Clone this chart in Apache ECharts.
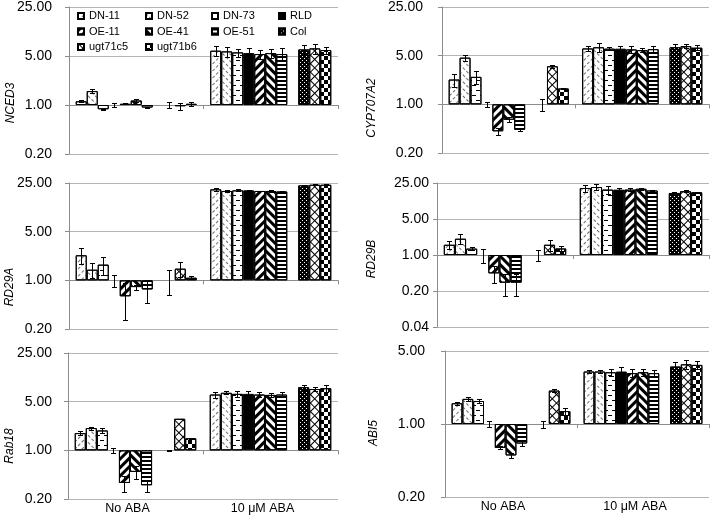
<!DOCTYPE html>
<html><head><meta charset="utf-8">
<script src="https://cdn.jsdelivr.net/npm/echarts@6/dist/echarts.min.js"></script>
<style>html,body{margin:0;padding:0;background:#fff}#c{width:719px;height:517px}</style>
</head><body><div id="c"></div>
<script>
// ---------------- data ----------------
const categories = ['No ABA', '10 μM ABA'];
const lines = ['DN-11', 'DN-52', 'DN-73', 'RLD', 'OE-11', 'OE-41', 'OE-51', 'Col', 'ugt71c5', 'ugt71b6'];
const genes = ['NCED3', 'CYP707A2', 'RD29A', 'RD29B', 'Rab18', 'ABI5'];

const NCED3_ticks = [0.2, 1, 5, 25];
const NCED3_noABA = [1.13, 1.58, 0.87, 1.00, 1.04, 1.16, 0.92, 1.00, 0.96, 1.04];
const NCED3_noABA_err = [0.04, 0.10, 0.02, 0.07, 0.02, 0.05, 0.02, 0.10, 0.10, 0.08];
const NCED3_ABA = [5.95, 5.82, 5.63, 5.50, 5.33, 5.50, 5.33, 6.20, 6.42, 6.08];
const NCED3_ABA_err = [0.90, 1.00, 0.75, 1.00, 0.75, 0.80, 1.10, 0.95, 1.00, 0.70];

const CYP707A2_ticks = [0.2, 1, 5, 25];
const CYP707A2_noABA = [2.27, 4.68, 2.48, 1.00, 0.41, 0.60, 0.43, 1.00, 3.52, 1.69];
const CYP707A2_noABA_err = [0.50, 0.45, 0.50, 0.09, 0.05, 0.05, 0.015, 0.20, 0.15, 0.04];
const CYP707A2_ABA = [6.35, 6.60, 6.30, 6.30, 6.15, 6.00, 6.20, 6.60, 6.85, 6.50];
const CYP707A2_ABA_err = [0.60, 0.90, 0.35, 0.60, 0.70, 0.40, 0.60, 0.70, 0.50, 0.50];

const RD29A_ticks = [0.2, 1, 5, 25];
const RD29A_noABA = [2.29, 1.42, 1.68, 1.00, 0.59, 0.80, 0.74, 1.00, 1.47, 1.09];
const RD29A_noABA_err = [0.60, 0.33, 0.50, 0.20, 0.32, 0.07, 0.27, 0.39, 0.35, 0.05];
const RD29A_ABA = [20.3, 19.2, 19.6, 19.6, 19.2, 19.2, 18.9, 23.1, 23.6, 23.6];
const RD29A_ABA_err = [1.0, 0.5, 0.6, 0.5, 0.3, 0.4, 0.4, 0.6, 0.4, 0.4];

const RD29B_ticks = [0.04, 0.2, 1, 5, 25];
const RD29B_noABA = [1.58, 2.07, 1.33, 1.00, 0.44, 0.29, 0.29, 1.00, 1.58, 1.34];
const RD29B_noABA_err = [0.30, 0.45, 0.10, 0.30, 0.16, 0.13, 0.13, 0.23, 0.40, 0.15];
const RD29B_ABA = [20.0, 20.9, 18.6, 18.6, 18.6, 19.3, 17.9, 16.0, 17.3, 16.5];
const RD29B_ABA_err = [3.0, 2.5, 3.0, 1.0, 1.0, 1.0, 0.7, 1.0, 0.6, 0.4];

const Rab18_ticks = [0.2, 1, 5, 25];
const Rab18_noABA = [1.77, 2.09, 1.93, 1.00, 0.34, 0.49, 0.315, 1.00, 2.84, 1.49];
const Rab18_noABA_err = [0.12, 0.10, 0.15, 0.08, 0.09, 0.10, 0.065, 0.02, 0.02, 0.03];
const Rab18_ABA = [6.33, 6.70, 6.47, 6.47, 6.33, 6.25, 6.33, 8.06, 7.60, 7.80];
const Rab18_ABA_err = [0.60, 0.35, 0.65, 0.65, 0.50, 0.45, 0.55, 0.60, 0.60, 0.90];

const ABI5_ticks = [0.2, 1, 5];
const ABI5_noABA = [1.58, 1.74, 1.66, 1.00, 0.59, 0.50, 0.65, 1.00, 2.09, 1.33];
const ABI5_noABA_err = [0.05, 0.08, 0.07, 0.07, 0.02, 0.03, 0.03, 0.08, 0.08, 0.10];
const ABI5_ABA = [3.18, 3.18, 3.13, 3.18, 3.07, 3.13, 3.07, 3.55, 3.73, 3.68];
const ABI5_ABA_err = [0.10, 0.12, 0.25, 0.30, 0.28, 0.25, 0.25, 0.35, 0.35, 0.30];

// ---------------- layout / style ----------------
const FONT = 'Liberation Sans, Arial, sans-serif';
const panelData = [
  [NCED3_ticks, NCED3_noABA, NCED3_noABA_err, NCED3_ABA, NCED3_ABA_err],
  [CYP707A2_ticks, CYP707A2_noABA, CYP707A2_noABA_err, CYP707A2_ABA, CYP707A2_ABA_err],
  [RD29A_ticks, RD29A_noABA, RD29A_noABA_err, RD29A_ABA, RD29A_ABA_err],
  [RD29B_ticks, RD29B_noABA, RD29B_noABA_err, RD29B_ABA, RD29B_ABA_err],
  [Rab18_ticks, Rab18_noABA, Rab18_noABA_err, Rab18_ABA, Rab18_ABA_err],
  [ABI5_ticks, ABI5_noABA, ABI5_noABA_err, ABI5_ABA, ABI5_ABA_err]
];
const gridBoxes = [
  {left: 69, top: 7, width: 269, height: 147},
  {left: 442, top: 7, width: 267, height: 146},
  {left: 69, top: 183, width: 269, height: 146},
  {left: 437, top: 183, width: 272, height: 144},
  {left: 68, top: 353, width: 270, height: 146},
  {left: 445, top: 351, width: 264, height: 146}
];
const labelMargins = [17, 19, 17, 8, 16, 20];
const namePos = [[11, 103], [372, 108], [10, 287], [372, 259], [10, 446], [374, 433]];

const NSLOT = 11;          // 10 lines + one empty slot between OE-51 and Col
const CAT_GAP = 0.10;
const slotOf = i => (i < 7 ? i : i + 1);

const PI4 = Math.PI / 4;   // positive rotation = clockwise -> "\" ; negative -> "/"
const decals = [
  {symbol: 'rect', symbolSize: 1, dashArrayX: [[3, 2]], dashArrayY: [1, 4], rotation: -PI4, color: '#6e6e6e'},
  {symbol: 'rect', symbolSize: 1, dashArrayX: [[3, 2]], dashArrayY: [1, 4], rotation: PI4, color: '#6e6e6e'},
  {symbol: 'rect', symbolSize: 1, dashArrayX: [[4, 4], [0, 4, 4, 0]], dashArrayY: [1, 4], color: '#000'},
  null,
  {symbol: 'rect', symbolSize: 1, dashArrayX: [[1, 0]], dashArrayY: [3, 3], rotation: -PI4, color: '#000'},
  {symbol: 'rect', symbolSize: 1, dashArrayX: [[1, 0]], dashArrayY: [3, 3], rotation: PI4, color: '#000'},
  {symbol: 'rect', symbolSize: 1, dashArrayX: [[1, 0]], dashArrayY: [2, 2], color: '#000'},
  {symbol: 'rect', symbolSize: 1, dashArrayX: [[1, 3], [0, 2, 1, 1]], dashArrayY: [1, 1], color: '#fff'},
  {symbol: 'rect', symbolSize: 1, dashArrayX: [[1, 0], [1, 5], [1, 5], [1, 5], [1, 5], [1, 5]], dashArrayY: [1, 0], rotation: PI4, color: '#000'},
  {symbol: 'rect', symbolSize: 1, dashArrayX: [[4, 4], [0, 4, 4, 0]], dashArrayY: [4, 0], color: '#000'}
];
const baseColors = ['#fff', '#fff', '#fff', '#000', '#fff', '#fff', '#fff', '#000', '#fff', '#fff'];

function errRender(params, api) {
  const c = api.value(0), s = api.value(1), lo = api.value(2), hi = api.value(3);
  const band = api.size([1, 1])[0];
  const bw = band * (1 - CAT_GAP) / NSLOT;
  let x = api.coord([c, 1])[0] + (s - (NSLOT - 1) / 2) * bw;
  x = Math.round(x) + 0.5;
  const y0 = Math.round(api.coord([c, lo])[1]) + 0.5;
  const y1 = Math.round(api.coord([c, hi])[1]) + 0.5;
  const h = 2.5;
  const st = {stroke: '#000', lineWidth: 1};
  return {type: 'group', children: [
    {type: 'line', shape: {x1: x, y1: y0, x2: x, y2: y1}, style: st},
    {type: 'line', shape: {x1: x - h, y1: y0, x2: x + h, y2: y0}, style: st},
    {type: 'line', shape: {x1: x - h, y1: y1, x2: x + h, y2: y1}, style: st}
  ]};
}

const grids = [], xAxes = [], yAxes = [], series = [];
panelData.forEach((pd, k) => {
  const [ticks, noA, noE, aba, abaE] = pd;
  const box = gridBoxes[k];
  const min = ticks[0], max = ticks[ticks.length - 1];
  grids.push(Object.assign({containLabel: false, outerBoundsMode: 'none'}, box));
  xAxes.push({
    type: 'category', gridIndex: k, data: categories, position: 'bottom',
    axisLine: {show: false}, axisTick: {show: false}, splitLine: {show: false},
    axisLabel: {show: k >= 4, fontSize: 12.5, color: '#000', fontFamily: FONT, margin: 3, padding: [0, 16, 0, 0]}
  });
  const frac = (Math.log(1) - Math.log(min)) / (Math.log(max) - Math.log(min));
  xAxes.push({
    type: 'category', gridIndex: k, data: categories, position: 'bottom',
    offset: -box.height * frac,
    axisLine: {show: true, lineStyle: {color: '#8c8c8c', width: 1}},
    axisTick: {show: true, length: 4, lineStyle: {color: '#8c8c8c'}},
    axisLabel: {show: false}, splitLine: {show: false}
  });
  yAxes.push({
    type: 'log', logBase: 5, gridIndex: k, min: min, max: max,
    axisLine: {show: true, lineStyle: {color: '#8c8c8c', width: 1}},
    axisTick: {show: true, length: 4, lineStyle: {color: '#8c8c8c'}},
    splitLine: {show: true, lineStyle: {color: '#b4b4b4', width: 1}},
    axisLabel: {fontSize: 14, color: '#000', fontFamily: FONT, margin: labelMargins[k],
      formatter: v => Number(v).toFixed(2)}
  });
  for (let s = 0; s < NSLOT; s++) {
    if (s === 7) {
      series.push({type: 'bar', name: '', xAxisIndex: 2 * k, yAxisIndex: k, data: [null, null],
        barGap: '0%', barCategoryGap: (CAT_GAP * 100) + '%'});
      continue;
    }
    const i = s < 7 ? s : s - 1;
    const vals = [noA[i], aba[i]].map(v => v === 1 ? {value: v, itemStyle: {borderWidth: 0}} : v);
    series.push({
      type: 'bar', name: lines[i], xAxisIndex: 2 * k, yAxisIndex: k, data: vals,
      barGap: '0%', barCategoryGap: (CAT_GAP * 100) + '%',
      itemStyle: {color: baseColors[i], borderColor: '#000', borderWidth: 1, decal: decals[i] || undefined},
      emphasis: {disabled: true}, z: 2
    });
  }
  const errData = [];
  for (let i = 0; i < lines.length; i++) {
    errData.push([0, slotOf(i), noA[i] - noE[i], noA[i] + noE[i]]);
    errData.push([1, slotOf(i), aba[i] - abaE[i], aba[i] + abaE[i]]);
  }
  series.push({type: 'custom', xAxisIndex: 2 * k, yAxisIndex: k, data: errData,
    encode: {x: 0, y: [2, 3]}, renderItem: errRender, z: 5, silent: true, clip: false});
});

const legendCommon = {orient: 'vertical', padding: 0, itemWidth: 6, itemHeight: 6, itemGap: 4.5,
  icon: 'rect', textStyle: {fontSize: 11, color: '#000', fontFamily: FONT}, selectedMode: false, top: 10.5};
const legends = [
  Object.assign({data: ['DN-11', 'OE-11', 'ugt71c5'], left: 77}, legendCommon),
  Object.assign({data: ['DN-52', 'OE-41', 'ugt71b6'], left: 145}, legendCommon),
  Object.assign({data: ['DN-73', 'OE-51'], left: 211}, legendCommon),
  Object.assign({data: ['RLD', 'Col'], left: 278}, legendCommon)
];

const graphics = genes.map((g, k) => ({
  type: 'text', x: namePos[k][0], y: namePos[k][1], rotation: Math.PI / 2,
  style: {text: g, fontSize: 12, fontStyle: 'italic', fontFamily: FONT, fill: '#000',
    textAlign: 'center', textVerticalAlign: 'middle'}
}));

const chart = echarts.init(document.getElementById('c'), null, {renderer: 'canvas'});
chart.setOption({
  animation: false,
  backgroundColor: '#fff',
  aria: {enabled: false},
  grid: grids, xAxis: xAxes, yAxis: yAxes, series: series,
  legend: legends, graphic: graphics
});
</script></body></html>
